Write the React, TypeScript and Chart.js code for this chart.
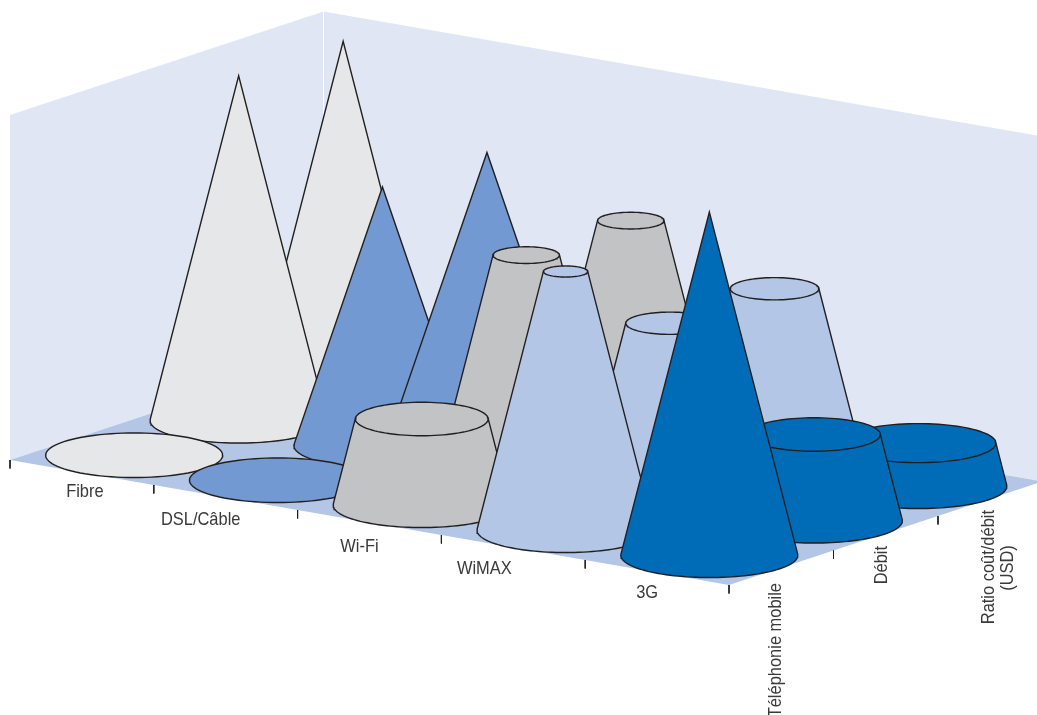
import React, { useEffect, useRef } from "react";
import { Chart, registerables } from "chart.js";

Chart.register(...registerables);

// Technologies along the front axis, services along the depth axis.
const technologies = ["Fibre", "DSL/Câble", "Wi-Fi", "WiMAX", "3G"];
const services = ["Téléphonie mobile", "Débit", ["Ratio coût/débit", "(USD)"]];

// Height of each cone, per service, in percent of the wall height.
const mobileHeights = [0, 0, 25, 75, 99.5];
const debitHeights = [100, 75, 62.5, 50, 25];
const ratioHeights = [100, 75, 62.5, 50, 12.5];

// Radius of each cone's top, per service, in percent of its base radius.
const mobileTops = [100, 100, 75, 25, 0];
const debitTops = [0, 0, 37.5, 50, 75];
const ratioTops = [0, 0, 37.5, 50, 87.5];

// Service indexes in paint order for each technology, far cones first.
const paintOrders = [
  [2, 1, 0],
  [1, 2, 0],
  [2, 1, 0],
  [2, 1, 0],
  [2, 1, 0],
];

const technologyColors = ["#e6e7e8", "#7299d1", "#c1c3c5", "#b3c6e6", "#006bb6"];

const wallColor = "#e0e6f4";
const floorColor = "#b3c6e6";
const inkColor = "#231f20";
const textColor = "#3a3a3c";
const labelFont = '"Liberation Sans", sans-serif';

// Oblique projection: x is counted in technology steps, y in percent of height.
const W = 1037;
const H = 715;
const STEP_X = 143.8;
const UNIT_Y = 3.45;
const DEPTH_X = 104.5 / STEP_X;
const FRONT_DROP = 25 / UNIT_Y;
const DEPTH_RISE = 34.5 / UNIT_Y;
const ORIGIN_X = 10;
const ORIGIN_Y = 460;
const RADIUS_X = 88.5 / STEP_X;
const RADIUS_Y = 22.3 / UNIT_Y;
const OUTLINE = 1.4;

type Pt = { x: number; y: number };

const project = (i: number, j: number, h: number): Pt => ({
  x: i + j * DEPTH_X,
  y: h - i * FRONT_DROP + j * DEPTH_RISE,
});

const polygon = (data: Pt[], fillColor: string, border = "transparent", width = 0) => ({
  data,
  fillColor,
  borderColor: border,
  borderWidth: width,
  showLine: true,
  pointRadius: 0,
  pointHoverRadius: 0,
  tension: 0,
  fill: false,
});

const ellipse = (c: Pt, scale: number): Pt[] => {
  const pts: Pt[] = [];
  for (let k = 0; k <= 96; k++) {
    const t = (k / 96) * Math.PI * 2;
    pts.push({
      x: c.x + RADIUS_X * scale * Math.cos(t),
      y: c.y + RADIUS_Y * scale * Math.sin(t),
    });
  }
  return pts;
};

// Outline of a cone or truncated cone: the front of the base plus the two
// tangent sides running up to the top.
const silhouette = (c: Pt, height: number, top: number): Pt[] => {
  const fullHeight = height / (1 - top);
  const t0 = Math.asin(Math.min(1, RADIUS_Y / fullHeight));
  const pts: Pt[] = [];
  const sweep = Math.PI + 2 * t0;
  for (let k = 0; k <= 64; k++) {
    const t = t0 - (k / 64) * sweep;
    pts.push({
      x: c.x + RADIUS_X * Math.cos(t),
      y: c.y + RADIUS_Y * Math.sin(t),
    });
  }
  const topX = RADIUS_X * top * Math.cos(t0);
  const topY = c.y + height + RADIUS_Y * top * Math.sin(t0);
  if (top > 0) pts.push({ x: c.x - topX, y: topY });
  pts.push({ x: c.x + topX, y: topY });
  pts.push(pts[0]);
  return pts;
};

const buildDatasets = () => {
  const heights = [mobileHeights, debitHeights, ratioHeights];
  const tops = [mobileTops, debitTops, ratioTops];
  const depth = services.length;
  const width = technologies.length;
  const paint: any[] = [];

  // Walls and floor
  paint.push(polygon([project(0, 0, 0), project(0, 0, 100), project(0, depth, 100), project(0, depth, 0)], wallColor));
  paint.push(polygon([project(0, depth, 0), project(0, depth, 100), project(width, depth, 100), project(width, depth, 0)], wallColor));
  paint.push(polygon([project(0, 0, 0), project(width, 0, 0), project(width, depth, 0), project(0, depth, 0)], floorColor));
  paint.push(polygon([project(0, depth, 0), project(0, depth, 100)], "transparent", "#ffffff", 1));

  // Tick marks below the floor edges
  const tick = (i: number, j: number) => {
    const p = project(i, j, 0);
    paint.push(polygon([p, { x: p.x, y: p.y - 8.5 / UNIT_Y }], "transparent", inkColor, 1));
  };
  for (let i = 0; i <= width; i++) tick(i, 0);
  for (let j = 1; j <= depth; j++) tick(width, j);

  // Cones, from the far corner towards the viewer
  for (let i = 0; i < width; i++) {
    for (const j of paintOrders[i]) {
      const c = project(i + 0.5, j + 0.5, 0);
      const h = heights[j][i];
      const top = tops[j][i] / 100;
      const color = technologyColors[i];
      if (h === 0) {
        paint.push(polygon(ellipse(c, 1), color, inkColor, OUTLINE));
        continue;
      }
      paint.push(polygon(silhouette(c, h, top), color, inkColor, OUTLINE));
      if (top > 0) {
        paint.push(polygon(ellipse({ x: c.x, y: c.y + h }, top), color, inkColor, OUTLINE));
      }
    }
  }
  // Chart.js paints the first dataset last
  return paint.reverse();
};

// Fills each dataset's closed outline just before its line is stroked.
const polygonFill = {
  id: "polygonFill",
  beforeDatasetDraw(chart: any, args: any) {
    const color = chart.data.datasets[args.index].fillColor;
    const points = args.meta.data;
    if (!color || color === "transparent" || !points.length) return;
    const ctx = chart.ctx;
    ctx.save();
    ctx.beginPath();
    points.forEach((p: any, k: number) => (k ? ctx.lineTo(p.x, p.y) : ctx.moveTo(p.x, p.y)));
    ctx.closePath();
    ctx.fillStyle = color;
    ctx.fill();
    ctx.restore();
  },
};

// Axis captions: technologies stay horizontal, services read upwards, all
// squeezed horizontally to a condensed cut.
const CONDENSE = 0.865;
const categoryNudgeX = [3, -25, -10, -29, -10];
const categoryNudgeY = [19, 22, 24, 21, 20];
const serviceNudgeX = [47, 48, 51];
const serviceEnds = [583, 546, 510];

const axisCaptions = {
  id: "axisCaptions",
  afterDatasetsDraw(chart: any) {
    const { ctx, scales } = chart;
    ctx.save();
    ctx.fillStyle = textColor;
    ctx.font = `19px ${labelFont}`;
    ctx.textBaseline = "middle";
    technologies.forEach((name, i) => {
      const p = project(i + 0.5, 0, 0);
      ctx.save();
      ctx.translate(
        scales.x.getPixelForValue(p.x) + categoryNudgeX[i],
        scales.y.getPixelForValue(p.y) + categoryNudgeY[i],
      );
      ctx.scale(CONDENSE, 1);
      ctx.textAlign = "center";
      ctx.fillText(name, 0, 0);
      ctx.restore();
    });
    services.forEach((name, j) => {
      const p = project(technologies.length, j, 0);
      const px = scales.x.getPixelForValue(p.x) + serviceNudgeX[j];
      const lines = Array.isArray(name) ? name : [name];
      lines.forEach((line, n) => {
        ctx.save();
        ctx.translate(px + n * 19, n === 0 ? serviceEnds[j] : 568);
        ctx.rotate(-Math.PI / 2);
        ctx.scale(CONDENSE, 1);
        ctx.textAlign = n === 0 ? "right" : "center";
        ctx.fillText(line, 0, 0);
        ctx.restore();
      });
    });
    ctx.restore();
  },
};

export default function App() {
  const ref = useRef<HTMLCanvasElement>(null);
  useEffect(() => {
    if (!ref.current) return;
    const chart = new Chart(ref.current, {
      type: "scatter",
      data: { datasets: buildDatasets() as any },
      plugins: [polygonFill, axisCaptions],
      options: {
        animation: false,
        responsive: false,
        layout: { padding: 0 },
        plugins: { legend: { display: false }, tooltip: { enabled: false } },
        events: [],
        scales: {
          x: { type: "linear", display: false, min: -ORIGIN_X / STEP_X, max: (W - ORIGIN_X) / STEP_X },
          y: { type: "linear", display: false, min: (ORIGIN_Y - H) / UNIT_Y, max: ORIGIN_Y / UNIT_Y },
        },
      },
    });
    return () => chart.destroy();
  }, []);
  return (
    <div style={{ position: "absolute", left: 0, top: 0, width: W, height: H, background: "#fff" }}>
      <canvas ref={ref} width={W} height={H} style={{ display: "block" }} />
    </div>
  );
}
